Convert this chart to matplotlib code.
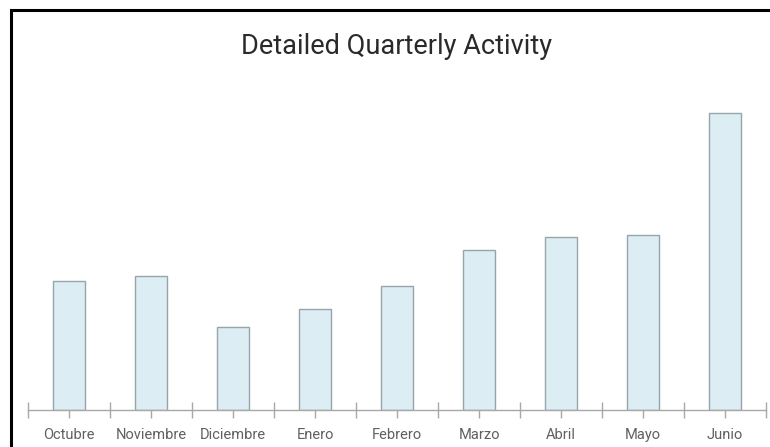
import matplotlib
matplotlib.use('Agg')
import matplotlib.pyplot as plt
from matplotlib.patches import Rectangle
from matplotlib.ticker import FixedLocator
import numpy as np

months = ['Octubre', 'Noviembre', 'Diciembre', 'Enero', 'Febrero',
          'Marzo', 'Abril', 'Mayo', 'Junio']
activity = [129, 134, 83, 101, 124, 160, 173, 175, 297]

plt.rcParams['font.family'] = ['Roboto', 'DejaVu Sans']

fig = plt.figure(figsize=(7.7, 4.47), dpi=100)
ax = fig.add_axes([28 / 770, 37 / 447, 738 / 770, 315 / 447])

x = np.arange(len(months))
ax.bar(x, activity, width=0.4, color='#dcedf3', edgecolor='#96a5aa', linewidth=1.0)

ax.set_xlim(-0.5, len(months) - 0.5)
ax.set_ylim(0, 315)

for side in ['top', 'right', 'left']:
    ax.spines[side].set_visible(False)
ax.spines['bottom'].set_color('#a8a8a8')
ax.spines['bottom'].set_linewidth(1)
ax.set_yticks([])

# boundary ticks (major) and labelled center ticks (minor)
ax.xaxis.set_major_locator(FixedLocator(np.arange(len(months) + 1) - 0.5))
ax.xaxis.set_minor_locator(FixedLocator(x))
ax.set_xticklabels([])
ax.set_xticks(x, labels=months, minor=True)
ax.tick_params(axis='x', which='major', direction='inout', length=11,
               color='#a8a8a8', width=1)
ax.tick_params(axis='x', which='minor', direction='out', length=6,
               color='#a8a8a8', width=1, labelsize=10.5, labelcolor='#606060', pad=7)

ax.set_title('Detailed Quarterly Activity', fontsize=19.5, color='#2a2a2a',
             pad=0, y=1.13)

# frame around the card (right / bottom edges run off the image)
fig.patches.append(Rectangle((11 / 770, -0.1), 1.1, 1 - 10 / 447 + 0.1,
                             transform=fig.transFigure, fill=False,
                             edgecolor='black', linewidth=2.2))

fig.savefig('out.png', dpi=100)
